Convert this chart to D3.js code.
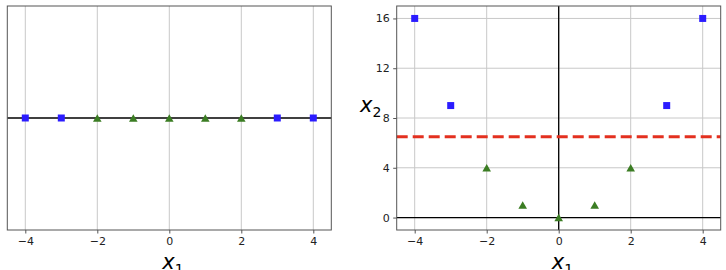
<!DOCTYPE html>
<html>
<head>
<meta charset="utf-8">
<script src="https://cdn.jsdelivr.net/npm/d3@7"></script>
<style>
  body { margin: 0; background: #fff; }
  svg text { font-family: "DejaVu Sans", sans-serif; }
</style>
</head>
<body>
<svg id="canvas"></svg>
<script>
// data
let x1Values = [-4, -3, -2, -1, 0, 1, 2, 3, 4];
let classes = [0, 0, 1, 1, 1, 1, 1, 0, 0];
let x2Values = [16, 9, 4, 1, 0, 1, 4, 9, 16];
let boundary = [6.5];
let xTicks = [-4, -2, 0, 2, 4];
let yTicks = [0, 4, 8, 12, 16];

let width = 726;
let height = 270;

let canvas = d3.select('#canvas')
    .attr('width', width)
    .attr('height', height);

let points = x1Values.map((x, i) => ({ x1: x, x2: x2Values[i], c: classes[i] }));

let blue = '#2b1cff';
let green = '#3b7d23';

let square = d3.symbol().type(d3.symbolSquare).size(49);
let triangle = d3.symbol().type(d3.symbolTriangle).size(32);

let drawPanel = (left, right, top, bottom, yDomain, useY) => {
    let xScale = d3.scaleLinear().domain([-4.5, 4.5]).range([left, right]);
    let yScale = d3.scaleLinear().domain(yDomain).range([bottom, top]);
    let g = canvas.append('g');

    // grid
    g.selectAll('.vgrid')
        .data(xTicks)
        .enter()
        .append('line')
        .attr('x1', d => xScale(d)).attr('x2', d => xScale(d))
        .attr('y1', top).attr('y2', bottom)
        .attr('stroke', '#c8c8c8').attr('stroke-width', 1);
    if (useY) {
        g.selectAll('.hgrid')
            .data(yTicks)
            .enter()
            .append('line')
            .attr('x1', left).attr('x2', right)
            .attr('y1', d => yScale(d)).attr('y2', d => yScale(d))
            .attr('stroke', '#c8c8c8').attr('stroke-width', 1);
    }

    // axes through origin
    g.append('line')
        .attr('x1', left).attr('x2', right)
        .attr('y1', yScale(0)).attr('y2', yScale(0))
        .attr('stroke', '#000').attr('stroke-width', 1.3);
    if (useY) {
        g.append('line')
            .attr('x1', xScale(0)).attr('x2', xScale(0))
            .attr('y1', top).attr('y2', bottom)
            .attr('stroke', '#000').attr('stroke-width', 1.3);

        g.append('line')
            .data(boundary)
            .attr('x1', left).attr('x2', right)
            .attr('y1', d => yScale(d)).attr('y2', d => yScale(d))
            .attr('stroke', '#e3301f').attr('stroke-width', 3)
            .attr('stroke-dasharray', '11,5');
    }

    // markers (triangles nudged so their box is centred on the point)
    g.selectAll('.pt')
        .data(points)
        .enter()
        .append('path')
        .attr('d', d => d.c === 0 ? square() : triangle())
        .attr('fill', d => d.c === 0 ? blue : green)
        .attr('transform', d => 'translate(' + xScale(d.x1) + ',' + (yScale(useY ? d.x2 : 0) + (d.c === 0 ? 0 : 1.2)) + ')');

    // frame
    g.append('rect')
        .attr('x', left).attr('y', top)
        .attr('width', right - left).attr('height', bottom - top)
        .attr('fill', 'none').attr('stroke', '#555').attr('stroke-width', 1);

    let xAxis = d3.axisBottom(xScale).tickValues(xTicks).tickSize(3.5).tickPadding(3.5)
        .tickFormat(d => d < 0 ? '\u2212' + Math.abs(d) : d);
    let xg = g.append('g')
        .attr('transform', 'translate(0,' + bottom + ')')
        .call(xAxis);
    xg.select('.domain').remove();
    xg.selectAll('text').attr('font-size', 11).attr('fill', '#222');
    xg.selectAll('line').attr('stroke', '#555');

    if (useY) {
        let yAxis = d3.axisLeft(yScale).tickValues(yTicks).tickSize(3.5).tickPadding(3.5);
        let yg = g.append('g')
            .attr('transform', 'translate(' + left + ',0)')
            .call(yAxis);
        yg.select('.domain').remove();
        yg.selectAll('text').attr('font-size', 11).attr('fill', '#222');
        yg.selectAll('line').attr('stroke', '#555');

        let lab = g.append('text')
            .attr('x', 360).attr('y', 112)
            .attr('font-size', 21)
            .attr('fill', '#000');
        lab.append('tspan').attr('font-style', 'italic').text('x');
        lab.append('tspan').attr('font-size', 14).attr('dy', 5).text('2');
    }

    let xl = g.append('text')
        .attr('x', (left + right) / 2 - 7).attr('y', 269)
        .attr('font-size', 21)
        .attr('fill', '#000');
    xl.append('tspan').attr('font-style', 'italic').text('x');
    xl.append('tspan').attr('font-size', 14).attr('dy', 5).text('1');
};

drawPanel(7.3, 331.3, 6, 230, [-0.2, 0.2], false);
drawPanel(396.7, 720.7, 6, 230, [-1, 17], true);
</script>
</body>
</html>
